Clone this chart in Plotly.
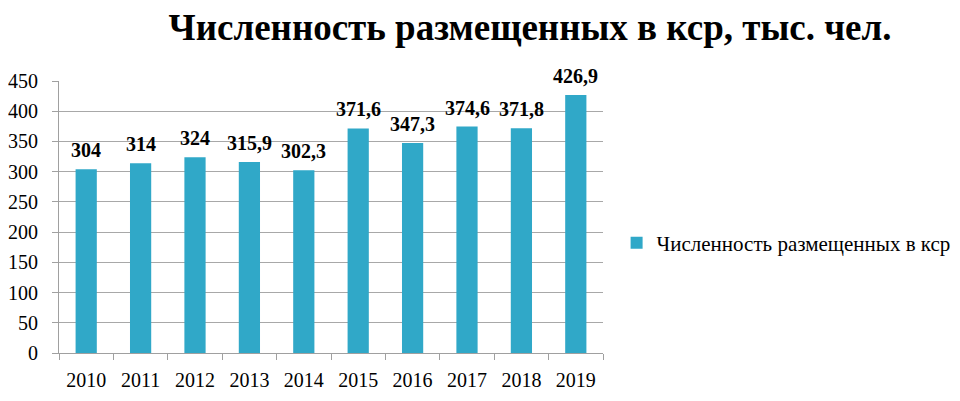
import plotly.graph_objects as go

years = ["2010", "2011", "2012", "2013", "2014", "2015", "2016", "2017", "2018", "2019"]
values = [304, 314, 324, 315.9, 302.3, 371.6, 347.3, 374.6, 371.8, 426.9]
labels = ["304", "314", "324", "315,9", "302,3", "371,6", "347,3", "374,6", "371,8", "426,9"]
series_name = "Численность размещенных в кср"
title_text = "Численность размещенных в кср, тыс. чел."

serif = "Liberation Serif, Times New Roman, serif"

fig = go.Figure()
fig.add_trace(go.Bar(
    x=years, y=values, name=series_name,
    marker=dict(color="#30A8C8", line=dict(width=0)),
    showlegend=True,
))

for i, (v, lab) in enumerate(zip(values, labels)):
    fig.add_annotation(x=i, y=v, xref="x", yref="y", text="<b>" + lab + "</b>",
                       showarrow=False, yanchor="bottom", yshift=6,
                       font=dict(family=serif, size=20, color="black"))

fig.update_layout(
    width=960, height=401,
    paper_bgcolor="white", plot_bgcolor="white",
    margin=dict(l=51, r=362, t=73, b=56),
    bargap=0.61,
    title=dict(text="<b>" + title_text + "</b>", x=522/960, xanchor="center",
               y=1 - 19/401, yanchor="middle",
               font=dict(family=serif, size=37, color="black")),
    legend=dict(x=1.025, y=0.404, xanchor="left", yanchor="middle",
                font=dict(family=serif, size=21, color="black"),
                bgcolor="rgba(0,0,0,0)", itemwidth=30),
    xaxis=dict(type="category", categoryorder="array", categoryarray=years,
               automargin=False,
               showline=True, linecolor="#A0A0A0", linewidth=1,
               ticks="outside", tickson="boundaries", ticklen=6, tickcolor="#A0A0A0",
               ticklabelstandoff=9, tickangle=0,
               tickfont=dict(family=serif, size=20, color="black"), showgrid=False),
    yaxis=dict(range=[0, 450], dtick=50, automargin=False,
               showline=True, linecolor="#A0A0A0", linewidth=1,
               ticks="outside", ticklen=6, tickcolor="#A0A0A0", ticklabelstandoff=10,
               gridcolor="#A8A8A8", gridwidth=1, zeroline=False,
               tickfont=dict(family=serif, size=20, color="black")),
)

fig.write_html("out.html")
